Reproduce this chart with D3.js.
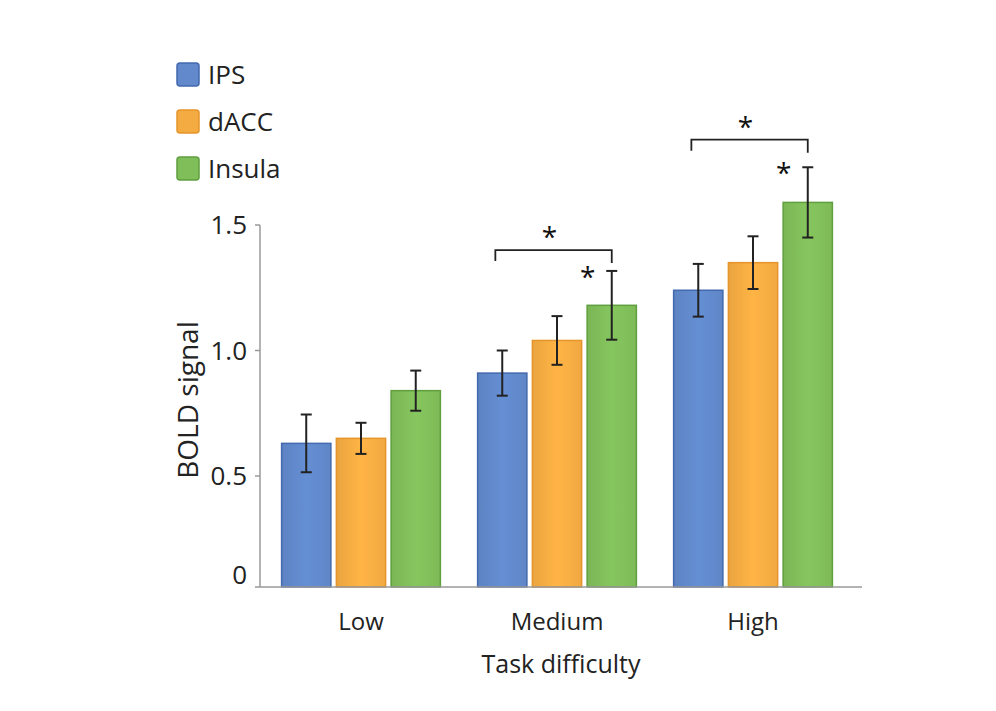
<!DOCTYPE html>
<html>
<head>
<meta charset="utf-8">
<script src="https://cdn.jsdelivr.net/npm/d3@7"></script>
<style>
  html, body { margin: 0; padding: 0; background: #ffffff; }
  svg { display: block; font-family: "Open Sans", "Noto Sans", sans-serif; }
</style>
</head>
<body>
<svg id="chart" width="996" height="711"></svg>
<script>
// ---- data ----
const categories = ["Low", "Medium", "High"];
const series = ["IPS", "dACC", "Insula"];
const ipsValues = [0.63, 0.91, 1.24];
const daccValues = [0.65, 1.04, 1.35];
const insulaValues = [0.84, 1.18, 1.59];
const ipsErrors = [0.115, 0.09, 0.105];
const daccErrors = [0.062, 0.097, 0.105];
const insulaErrors = [0.08, 0.137, 0.14];
const yTicks = [0, 0.5, 1.0, 1.5];
const yTickLabels = ["0", "0.5", "1.0", "1.5"];
const sigGroups = ["Medium", "High"];
const sigBracketValues = [1.40, 1.84];
const yAxisTitle = "BOLD signal";
const xAxisTitle = "Task difficulty";

// ---- styles ----
const fills = { IPS: "#6189cb", dACC: "#f4ac42", Insula: "#80be5a" };
const strokes = { IPS: "#4369ae", dACC: "#e6952b", Insula: "#5f9f3e" };

const svg = d3.select("#chart");
svg.append("rect").attr("width", 996).attr("height", 711).attr("fill", "#ffffff");

const axisX = 260, baseY = 587;
const y = d3.scaleLinear().domain([0, 0.5, 1.5]).range([587, 476, 225]);
const x0 = d3.scaleBand().domain(categories).range([262, 852]).paddingInner(0.19).paddingOuter(0.1);
const x1 = d3.scaleBand().domain(series).range([0, x0.bandwidth()]).paddingInner(0.1);

const valuesBySeries = { IPS: ipsValues, dACC: daccValues, Insula: insulaValues };
const errorsBySeries = { IPS: ipsErrors, dACC: daccErrors, Insula: insulaErrors };

const rows = [];
categories.forEach((c, i) => series.forEach(s => rows.push({ cat: c, ser: s, v: valuesBySeries[s][i], e: errorsBySeries[s][i] })));

// gradients
const defs = svg.append("defs");
series.forEach(s => {
  const g = defs.append("linearGradient").attr("id", "grad-" + s).attr("x1", "0").attr("x2", "1").attr("y1", "0").attr("y2", "0");
  const base = d3.color(fills[s]);
  g.append("stop").attr("offset", "0%").attr("stop-color", base.darker(0.12));
  g.append("stop").attr("offset", "50%").attr("stop-color", base.brighter(0.12));
  g.append("stop").attr("offset", "100%").attr("stop-color", base.darker(0.05));
});

// bars
svg.append("g").selectAll("rect").data(rows).join("rect")
  .attr("x", d => x0(d.cat) + x1(d.ser))
  .attr("y", d => y(d.v))
  .attr("width", x1.bandwidth())
  .attr("height", d => y(0) - y(d.v))
  .attr("fill", d => "url(#grad-" + d.ser + ")")
  .attr("stroke", d => strokes[d.ser])
  .attr("stroke-width", 1.5);

// error bars
const eg = svg.append("g").attr("stroke", "#222").attr("stroke-width", 2).attr("fill", "none");
const cap = 5.5;
rows.forEach(d => {
  const cx = x0(d.cat) + x1(d.ser) + x1.bandwidth() / 2;
  eg.append("line").attr("x1", cx).attr("x2", cx).attr("y1", y(d.v + d.e)).attr("y2", y(d.v - d.e));
  eg.append("line").attr("x1", cx - cap).attr("x2", cx + cap).attr("y1", y(d.v + d.e)).attr("y2", y(d.v + d.e));
  eg.append("line").attr("x1", cx - cap).attr("x2", cx + cap).attr("y1", y(d.v - d.e)).attr("y2", y(d.v - d.e));
});

// significance brackets & stars
sigGroups.forEach((c, k) => {
  const i = categories.indexOf(c);
  const xl = x0(c) + x1("IPS") + x1.bandwidth() * 0.36;
  const xr = x0(c) + x1("Insula") + x1.bandwidth() / 2;
  const yb = y(sigBracketValues[k]);
  svg.append("path")
    .attr("d", `M${xl},${yb + 11}V${yb}H${xr}V${yb + 13}`)
    .attr("fill", "none").attr("stroke", "#222").attr("stroke-width", 1.8);
  svg.append("text").attr("x", (xl + xr) / 2 - 4).attr("y", yb - 3)
    .attr("text-anchor", "middle").attr("font-size", 28).attr("fill", "#111").text("*");
  const topErr = y(insulaValues[i] + insulaErrors[i]);
  svg.append("text").attr("x", xr - 24).attr("y", topErr + 16)
    .attr("text-anchor", "middle").attr("font-size", 28).attr("fill", "#111").text("*");
});

// y axis
const axg = svg.append("g").attr("stroke", "#9a9a9a").attr("stroke-width", 1.5);
axg.append("line").attr("x1", axisX).attr("x2", axisX).attr("y1", y(1.5)).attr("y2", y(0));
axg.append("line").attr("x1", axisX - 5).attr("x2", 862).attr("y1", y(0)).attr("y2", y(0));
yTicks.forEach(t => {
  if (t > 0) axg.append("line").attr("x1", axisX - 5).attr("x2", axisX).attr("y1", y(t)).attr("y2", y(t));
});
svg.append("g").selectAll("text").data(yTicks).join("text")
  .attr("x", axisX - 13)
  .attr("y", t => y(t) - (t === 0 ? 12 : 0))
  .attr("dy", "0.36em")
  .attr("text-anchor", "end")
  .attr("font-size", 26)
  .attr("fill", "#222")
  .text((t, i) => yTickLabels[i]);

svg.append("text")
  .attr("transform", "translate(198,400) rotate(-90)")
  .attr("text-anchor", "middle")
  .attr("font-size", 28)
  .attr("fill", "#222")
  .text(yAxisTitle);

// x axis labels
svg.append("g").selectAll("text").data(categories).join("text")
  .attr("x", c => x0(c) + x0.bandwidth() / 2)
  .attr("y", 630)
  .attr("text-anchor", "middle")
  .attr("font-size", 24)
  .attr("fill", "#222")
  .text(c => c);

svg.append("text").attr("x", 561).attr("y", 673)
  .attr("text-anchor", "middle").attr("font-size", 25).attr("fill", "#222")
  .text(xAxisTitle);

// legend
const lg = svg.append("g");
series.forEach((s, i) => {
  const ly = 63 + i * 47;
  lg.append("rect").attr("x", 177).attr("y", ly).attr("width", 22).attr("height", 23)
    .attr("rx", 3).attr("fill", fills[s]).attr("stroke", strokes[s]).attr("stroke-width", 1.5);
  lg.append("text").attr("x", 208).attr("y", ly + 11.5).attr("dy", "0.36em")
    .attr("font-size", 26).attr("fill", "#222").text(s);
});
</script>
</body>
</html>
